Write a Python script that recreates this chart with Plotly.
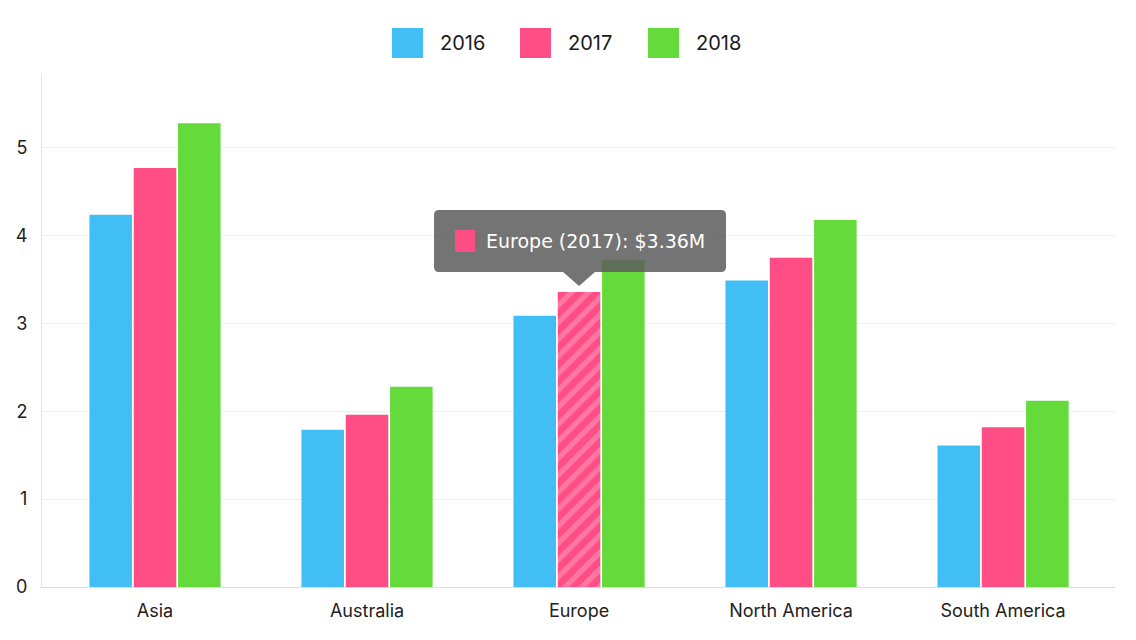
import plotly.graph_objects as go

categories = ["Asia", "Australia", "Europe", "North America", "South America"]
years = ["2016", "2017", "2018"]
v2016 = [4.24, 1.79, 3.09, 3.49, 1.61]
v2017 = [4.77, 1.96, 3.36, 3.75, 1.82]
v2018 = [5.28, 2.28, 3.72, 4.18, 2.12]
colors = ["#41BEF3", "#FF4E86", "#64DB3A"]
series = [v2016, v2017, v2018]

hl_cat = "Europe"
hl_year = "2017"
hl_idx = categories.index(hl_cat)
hl_series = years.index(hl_year)
hl_val = series[hl_series][hl_idx]

W, H = 1136, 640
ML, MR, MT, MB = 42, 21, 75, 53
FONT = "Inter, Roboto, 'Liberation Sans', sans-serif"

fig = go.Figure()
for s, (yr, vals, col) in enumerate(zip(years, series, colors)):
    shapes = ["/" if (s == hl_series and i == hl_idx) else "" for i in range(len(categories))]
    fig.add_trace(go.Bar(
        x=categories, y=vals, name=yr, showlegend=False,
        marker=dict(color=col, line=dict(width=0),
                    pattern=dict(shape=shapes, fgcolor="#FFA0C0", size=12, solidity=0.45)),
    ))

def px_x(p):
    return (p - ML) / (W - ML - MR)

def px_y(p):
    return (H - MB - p) / (H - MT - MB)

shp = []
ann = []
# custom legend
lx0 = 392
for k, (yr, col) in enumerate(zip(years, colors)):
    x0 = lx0 + k * 128
    shp.append(dict(type="rect", xref="paper", yref="paper",
                    x0=px_x(x0), x1=px_x(x0 + 31), y0=px_y(58), y1=px_y(28),
                    fillcolor=col, line=dict(width=0)))
    ann.append(dict(xref="paper", yref="paper", x=px_x(x0 + 46), y=px_y(43),
                    text=yr, showarrow=False, xanchor="left", yanchor="middle",
                    font=dict(family=FONT, size=20, color="#1a1a1a")))

# tooltip (anchored at highlighted bar top, pixel offsets)
r = 5
L, R, B, T = -145, 147, 20, 82
path = (f"M {L + r},{B} L {-16},{B} L 0,{6} L {16},{B} L {R - r},{B} "
        f"Q {R},{B} {R},{B + r} L {R},{T - r} Q {R},{T} {R - r},{T} "
        f"L {L + r},{T} Q {L},{T} {L},{T - r} L {L},{B + r} Q {L},{B} {L + r},{B} Z")
shp.append(dict(type="path", xref="x", yref="y", xsizemode="pixel", ysizemode="pixel",
                xanchor=hl_idx, yanchor=hl_val, path=path,
                fillcolor="rgba(92,92,92,0.85)", line=dict(width=0), layer="above"))
shp.append(dict(type="rect", xref="x", yref="y", xsizemode="pixel", ysizemode="pixel",
                xanchor=hl_idx, yanchor=hl_val, x0=-124, x1=-104, y0=40, y1=62,
                fillcolor=colors[hl_series], line=dict(width=0), layer="above"))
ann.append(dict(xref="x", yref="y", x=hl_idx, y=hl_val, xshift=-95, yshift=51,
                text=f"{hl_cat} ({hl_year}): ${hl_val:.2f}M", showarrow=False,
                xanchor="left", yanchor="middle",
                font=dict(family="'DejaVu Sans', sans-serif", size=19, color="white")))

fig.update_layout(
    width=W, height=H, margin=dict(l=ML, r=MR, t=MT, b=MB),
    paper_bgcolor="white", plot_bgcolor="white",
    barmode="group", bargap=0.373, bargroupgap=0.04,
    showlegend=False, shapes=shp, annotations=ann,
    font=dict(family=FONT, size=18, color="#333333"),
    xaxis=dict(type="category", range=[-0.533, 4.528], showline=True, linecolor="#DDDDDD",
               linewidth=1, showgrid=False, ticks="", ticklabelstandoff=7,
               tickfont=dict(size=18, color="#222222")),
    yaxis=dict(range=[0, 5.83], tickvals=[0, 1, 2, 3, 4, 5], showline=True, linecolor="#E3E3E3",
               gridcolor="#EFEFEF", zeroline=False, ticks="", ticklabelstandoff=10,
               tickfont=dict(size=18, color="#222222")),
)

fig.write_html("out.html", config={"displayModeBar": False},
               post_script="document.body.style.margin='0';")
